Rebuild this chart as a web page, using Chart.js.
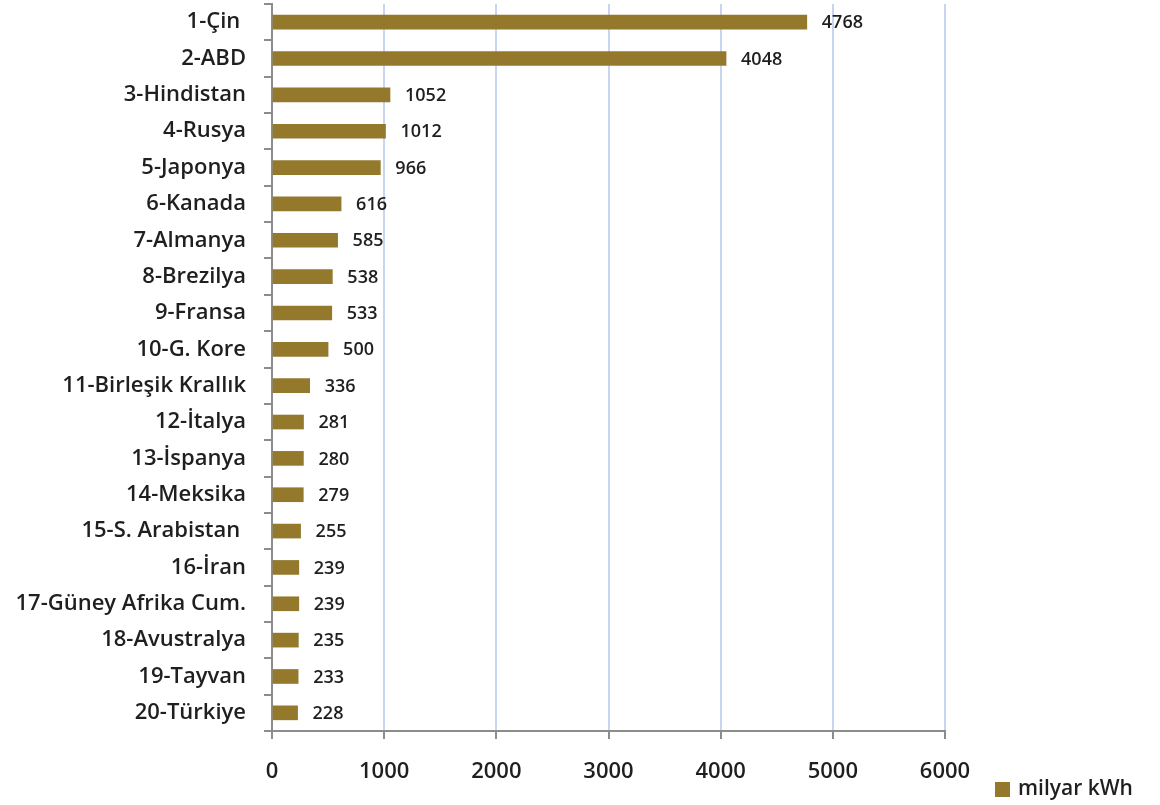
<!DOCTYPE html>
<html>
<head>
<meta charset="utf-8">
<script src="https://cdn.jsdelivr.net/npm/chart.js@4.4.1/dist/chart.umd.min.js"></script>
<style>
  html, body { margin: 0; padding: 0; background: #fff; }
  #wrap { width: 1160px; height: 805px; }
</style>
</head>
<body>
<div id="wrap"><canvas id="elektrik-chart"></canvas></div>
<script>
    "use strict";

    // Data
    var countries = ["1-Çin ", "2-ABD", "3-Hindistan", "4-Rusya", "5-Japonya", "6-Kanada", "7-Almanya",
        "8-Brezilya", "9-Fransa", "10-G. Kore", "11-Birleşik Krallık", "12-İtalya", "13-İspanya",
        "14-Meksika", "15-S. Arabistan ", "16-İran", "17-Güney Afrika Cum.", "18-Avustralya",
        "19-Tayvan", "20-Türkiye"];
    var production = [4768, 4048, 1052, 1012, 966, 616, 585, 538, 533, 500, 336, 281, 280, 279, 255, 239, 239, 235, 233, 228];
    var xTicks = [0, 1000, 2000, 3000, 4000, 5000, 6000];
    var seriesName = "milyar kWh";

    var barColor = "#94792c";
    var textColor = "#1f1f1f";
    var fontFamily = "'Open Sans', Lato, sans-serif";

    // value labels at bar ends
    var valueLabels = {
        id: "valueLabels",
        afterDatasetsDraw: function (chart) {
            var ctx = chart.ctx;
            var meta = chart.getDatasetMeta(0);
            ctx.save();
            ctx.font = "600 18px " + fontFamily;
            ctx.fillStyle = textColor;
            ctx.textAlign = "left";
            ctx.textBaseline = "middle";
            meta.data.forEach(function (bar, i) {
                ctx.fillText(production[i], bar.x + 15, bar.y + 1);
            });
            ctx.restore();
        }
    };

    // legend bottom right
    var cornerLegend = {
        id: "cornerLegend",
        afterDraw: function (chart) {
            var ctx = chart.ctx;
            var ds = chart.data.datasets[0];
            ctx.save();
            ctx.fillStyle = ds.backgroundColor;
            ctx.fillRect(995, 782, 15, 15);
            ctx.font = "600 21px " + fontFamily;
            ctx.fillStyle = textColor;
            ctx.textBaseline = "middle";
            ctx.fillText(ds.label, 1018, 789);
            ctx.restore();
        }
    };

    var ctx1 = document.getElementById("elektrik-chart").getContext("2d");
    var myChart1 = new Chart(ctx1, {
        type: "bar",
        data: {
            labels: countries,
            datasets: [{
                label: seriesName,
                data: production,
                backgroundColor: barColor,
                barThickness: 14
            }]
        },
        options: {
            indexAxis: "y",
            responsive: true,
            maintainAspectRatio: false,
            animation: false,
            layout: {
                padding: { left: 0, right: 215, top: 4, bottom: 0 }
            },
            plugins: {
                legend: { display: false },
                tooltip: { enabled: false }
            },
            scales: {
                x: {
                    min: 0,
                    max: 6000,
                    afterBuildTicks: function (scale) {
                        scale.ticks = xTicks.map(function (v) { return { value: v }; });
                    },
                    afterFit: function (scale) {
                        scale.height = 74;
                        scale.paddingLeft = 0;
                        scale.paddingRight = 0;
                    },
                    grid: {
                        color: "#c7d5ee",
                        lineWidth: 2,
                        tickColor: "#8c8c8c",
                        tickLength: 8
                    },
                    border: { color: "#8c8c8c", width: 2 },
                    ticks: {
                        color: textColor,
                        padding: 20,
                        font: { family: fontFamily, size: 22, weight: "600" },
                        callback: function (value) { return String(value); }
                    }
                },
                y: {
                    afterFit: function (scale) {
                        scale.width = 272;
                        scale.paddingTop = 0;
                        scale.paddingBottom = 0;
                    },
                    grid: {
                        offset: true,
                        drawOnChartArea: false,
                        color: "#8c8c8c",
                        tickLength: 8,
                        lineWidth: 2
                    },
                    border: { color: "#8c8c8c", width: 2 },
                    ticks: {
                        color: textColor,
                        padding: 18,
                        font: { family: fontFamily, size: 22, weight: "600" }
                    }
                }
            }
        },
        plugins: [valueLabels, cornerLegend]
    });
</script>
</body>
</html>
